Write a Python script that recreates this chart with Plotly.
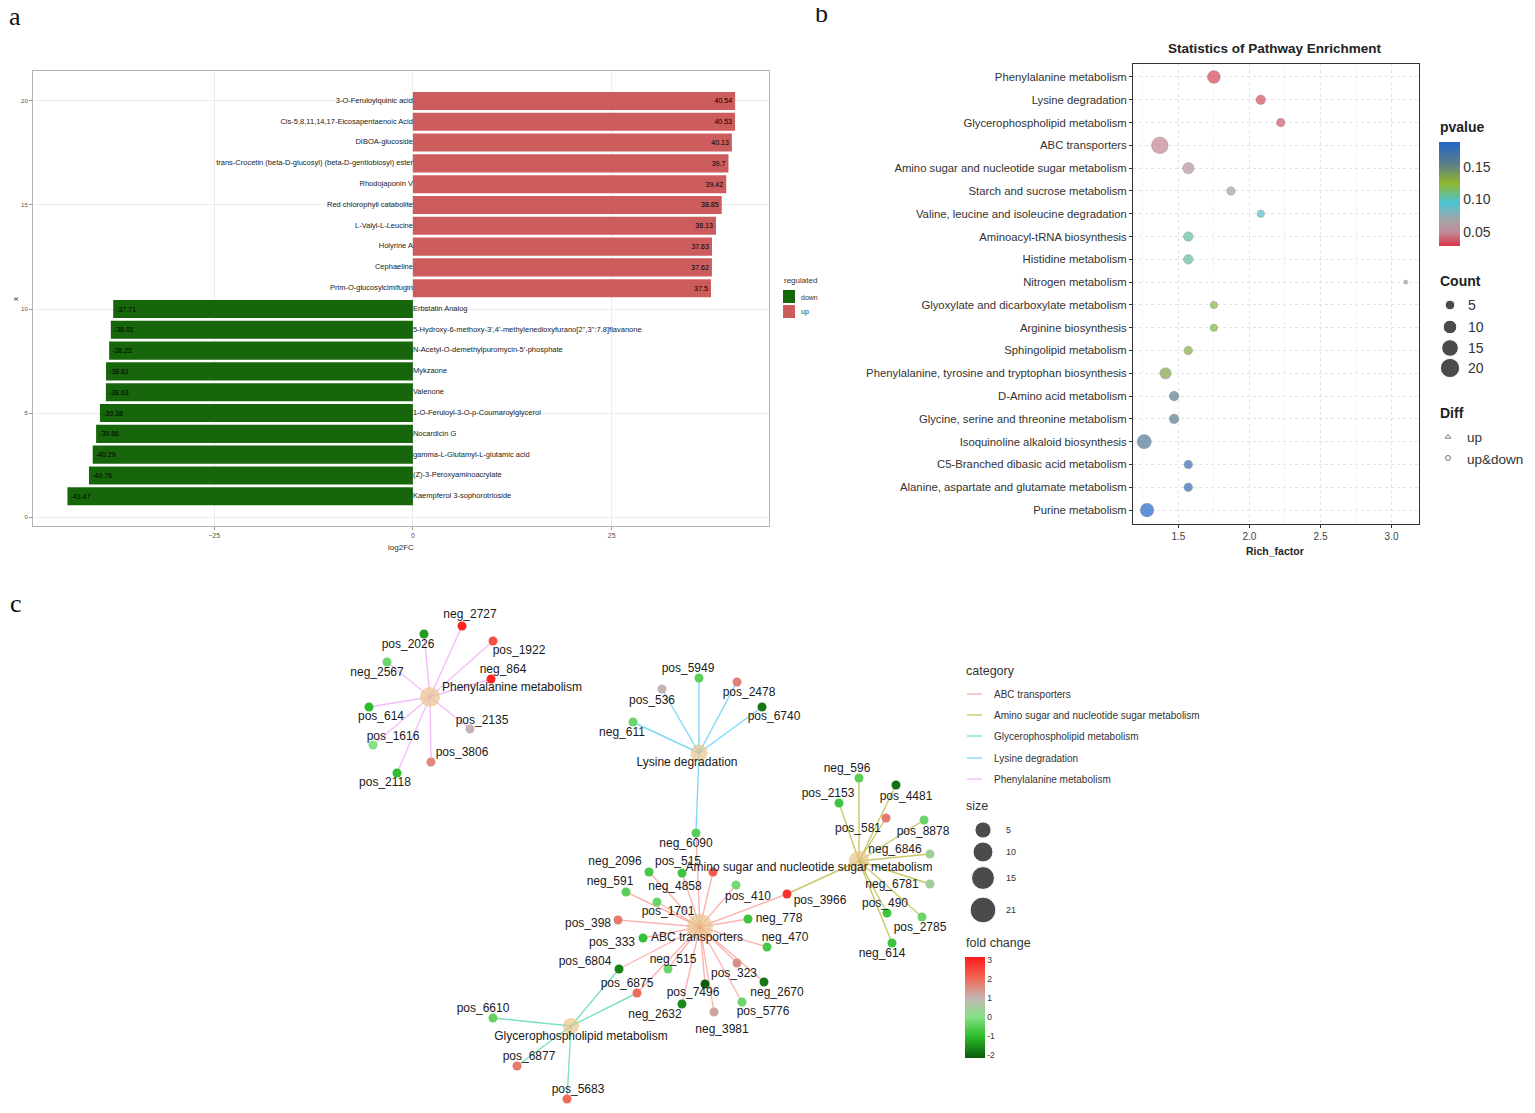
import math
import plotly.graph_objects as go

W, H = 1535, 1113          # browser window (reference picture) size
OFF = 8                     # page body margin of the html page
FW, FH = W - 2 * OFF, H - 2 * OFF   # figure size
FONT = "Liberation Sans, Arial, sans-serif"

# ======================= panel a : data =======================
a_names = [
    "3-O-Feruloylquinic acid",
    "Cis-5,8,11,14,17-Eicosapentaenoic Acid",
    "DIBOA-glucoside",
    "trans-Crocetin (beta-D-glucosyl) (beta-D-gentiobiosyl) ester",
    "Rhodojaponin V",
    "Red chlorophyll catabolite",
    "L-Valyl-L-Leucine",
    "Holyrine A",
    "Cephaeline",
    "Prim-O-glucosylcimifugin",
    "Erbstatin Analog",
    "5-Hydroxy-6-methoxy-3',4'-methylenedioxyfurano[2'',3'':7,8]flavanone",
    "N-Acetyl-O-demethylpuromycin-5'-phosphate",
    "Mykzaone",
    "Valenone",
    "1-O-Feruloyl-3-O-p-Coumaroylglycerol",
    "Nocardicin G",
    "gamma-L-Glutamyl-L-glutamic acid",
    "(Z)-3-Peroxyaminoacrylate",
    "Kaempferol 3-sophorotrioside",
]
a_log2fc = [40.54, 40.53, 40.13, 39.7, 39.42, 38.85, 38.13, 37.63, 37.62, 37.5,
            -37.71, -38.01, -38.22, -38.61, -38.63, -39.38, -39.86, -40.29, -40.76, -43.47]
a_regulated = ["up"] * 10 + ["down"] * 10
a_xticks = [-25, 0, 25]
a_yticks = [0, 5, 10, 15, 20]

# ======================= panel b : data =======================
b_pathways = [
    "Phenylalanine metabolism",
    "Lysine degradation",
    "Glycerophospholipid metabolism",
    "ABC transporters",
    "Amino sugar and nucleotide sugar metabolism",
    "Starch and sucrose metabolism",
    "Valine, leucine and isoleucine degradation",
    "Aminoacyl-tRNA biosynthesis",
    "Histidine metabolism",
    "Nitrogen metabolism",
    "Glyoxylate and dicarboxylate metabolism",
    "Arginine biosynthesis",
    "Sphingolipid metabolism",
    "Phenylalanine, tyrosine and tryptophan biosynthesis",
    "D-Amino acid metabolism",
    "Glycine, serine and threonine metabolism",
    "Isoquinoline alkaloid biosynthesis",
    "C5-Branched dibasic acid metabolism",
    "Alanine, aspartate and glutamate metabolism",
    "Purine metabolism",
]
b_rich_factor = [1.75, 2.08, 2.22, 1.37, 1.57, 1.87, 2.08, 1.57, 1.57, 3.10,
                 1.75, 1.75, 1.57, 1.41, 1.47, 1.47, 1.26, 1.57, 1.57, 1.28]
b_pvalue = [0.032, 0.035, 0.037, 0.048, 0.055, 0.068, 0.092, 0.105, 0.105, 0.07,
            0.12, 0.12, 0.13, 0.135, 0.155, 0.155, 0.162, 0.178, 0.178, 0.188]
b_count = [9, 5, 4, 15, 7, 4, 3, 5, 5, 1, 3, 3, 4, 7, 5, 5, 11, 4, 4, 10]
b_xticks = [1.5, 2.0, 2.5, 3.0]
b_count_legend = [5, 10, 15, 20]
b_pvalue_ticks = [0.05, 0.10, 0.15]

# ======================= panel c : data =======================
c_categories = ["ABC transporters", "Amino sugar and nucleotide sugar metabolism",
                "Glycerophospholipid metabolism", "Lysine degradation", "Phenylalanine metabolism"]
c_leaf_names = [
    "neg_2727", "pos_1922", "neg_864", "pos_2026", "neg_2567", "pos_614", "pos_1616", "pos_2118", "pos_3806", "pos_2135",
    "pos_5949", "pos_536", "pos_2478", "pos_6740", "neg_611", "neg_6090",
    "neg_596", "pos_4481", "pos_2153", "pos_581", "pos_8878", "neg_6846", "neg_6781", "pos_490", "pos_2785", "neg_614", "pos_3966",
    "neg_2096", "neg_4858", "pos_515", "neg_591", "pos_1701", "pos_410", "pos_398", "neg_778", "pos_333", "neg_470",
    "pos_6804", "neg_515", "pos_6875", "pos_323", "neg_2670", "pos_7496", "neg_2632", "pos_5776", "neg_3981",
    "pos_6610", "pos_6877", "pos_5683",
]
c_leaf_fc = [
    3.0, 2.4, 3.0, -1.4, -0.3, -1.0, 0.0, -1.0, 1.6, 1.0,
    -0.5, 1.0, 1.7, -1.8, -0.3, -0.5,
    -0.5, -1.9, -0.8, 1.8, -0.3, 0.4, 0.4, -0.8, -0.3, -0.8, 2.8,
    -0.7, -0.8, 2.2, -0.5, -0.3, -0.2, 1.8, -0.8, -0.9, -0.7,
    -1.7, -0.3, 2.0, 1.5, -1.8, -2.1, -1.6, -0.3, 1.2,
    -0.4, 1.8, 2.0,
]
c_members_abc = ["neg_6090", "pos_3966", "neg_2096", "neg_4858", "pos_515", "neg_591", "pos_1701", "pos_410",
                 "pos_398", "neg_778", "pos_333", "neg_470", "pos_6804", "neg_515", "pos_6875", "pos_323",
                 "neg_2670", "pos_7496", "neg_2632", "pos_5776", "neg_3981"]
c_members_amino = ["neg_596", "pos_4481", "pos_2153", "pos_581", "pos_8878", "neg_6846", "neg_6781",
                   "pos_490", "pos_2785", "neg_614", "pos_3966"]
c_members_glycero = ["pos_6804", "pos_6875", "pos_6610", "pos_6877", "pos_5683"]
c_members_lysine = ["pos_5949", "pos_536", "pos_2478", "pos_6740", "neg_611", "neg_6090"]
c_members_phe = ["neg_2727", "pos_1922", "neg_864", "pos_2026", "neg_2567", "pos_614", "pos_1616",
                 "pos_2118", "pos_3806", "pos_2135"]
c_members = [c_members_abc, c_members_amino, c_members_glycero, c_members_lysine, c_members_phe]
c_size_legend = [5, 10, 15, 21]
c_fc_ticks = [-2, -1, 0, 1, 2, 3]

# ---- network layout (window pixel coordinates of the drawn layout) ----
hub_x = [700, 859, 571, 699, 430]
hub_y = [927, 861, 1026, 753, 697]
hub_lab_x = [697, 809, 581, 687, 512]
hub_lab_y = [938, 868, 1037, 763, 688]
leaf_x = [462, 493, 491, 424, 387, 369, 373, 397, 431, 470,
          699, 662, 737, 762, 633, 696,
          859, 896, 839, 886, 924, 930, 930, 887, 922, 892, 787,
          649, 682, 713, 626, 657, 736, 618, 748, 643, 767,
          619, 668, 637, 737, 764, 705, 682, 742, 714,
          493, 517, 567]
leaf_y = [626, 641, 679, 634, 662, 707, 745, 773, 762, 729,
          678, 689, 682, 707, 722, 833,
          778, 785, 803, 818, 820, 854, 884, 913, 917, 943, 894,
          872, 873, 872, 892, 902, 885, 920, 919, 938, 947,
          969, 969, 993, 963, 982, 984, 1004, 1002, 1012,
          1018, 1066, 1099]
lab_x = [470, 519, 503, 408, 377, 381, 393, 385, 462, 482,
         688, 652, 749, 774, 622, 686,
         847, 906, 828, 858, 923, 895, 892, 885, 920, 882, 820,
         615, 675, 678, 610, 668, 748, 588, 779, 612, 785,
         585, 673, 627, 734, 777, 693, 655, 763, 722,
         483, 529, 578]
lab_y = [615, 651, 670, 645, 673, 717, 737, 783, 753, 721,
         669, 701, 693, 717, 733, 844,
         769, 797, 794, 829, 832, 850, 885, 904, 928, 954, 901,
         862, 887, 862, 882, 912, 897, 924, 919, 943, 938,
         962, 960, 984, 974, 993, 993, 1015, 1012, 1030,
         1009, 1057, 1090]


def px(x):
    return (x - OFF) / FW


def py(y):
    return 1 - (y - OFF) / FH


def count_size(c):
    return 4.3 * math.sqrt(c)


def hub_size(n):
    return 7 + 4.1 * math.sqrt(n)


def fmt(v):
    return f"{v:.2f}".rstrip("0").rstrip(".")


fig = go.Figure()

# ======================= panel a : bars =======================
ypos = [len(a_names) - i for i in range(len(a_names))]
a_colors = {"up": "#cd5c5c", "down": "#17660c"}
for reg in ["down", "up"]:
    idx = [i for i, r in enumerate(a_regulated) if r == reg]
    fig.add_trace(go.Bar(
        orientation="h", x=[a_log2fc[i] for i in idx], y=[ypos[i] for i in idx],
        width=0.87, marker=dict(color=a_colors[reg], line=dict(width=0)),
        text=[fmt(a_log2fc[i]) for i in idx], textposition="inside", insidetextanchor="end",
        textangle=0, insidetextfont=dict(size=7, color="black", family=FONT),
        xaxis="x", yaxis="y", hoverinfo="skip", showlegend=False))
    fig.add_trace(go.Scatter(
        x=[0] * len(idx), y=[ypos[i] for i in idx], mode="text",
        text=[a_names[i] for i in idx],
        textposition="middle left" if reg == "up" else "middle right",
        textfont=dict(size=7.5, color="#222", family=FONT),
        xaxis="x", yaxis="y", hoverinfo="skip", showlegend=False, cliponaxis=False))

# ======================= panel b : dots =======================
fig.add_trace(go.Scatter(
    x=b_rich_factor, y=b_pathways, mode="markers",
    marker=dict(size=[count_size(c) for c in b_count], color=b_pvalue, coloraxis="coloraxis",
                line=dict(width=0.7, color="rgba(70,70,70,0.45)")),
    xaxis="x2", yaxis="y2", hoverinfo="skip", showlegend=False, cliponaxis=False))

# ======================= panel c : network =======================
edge_colors = ["rgba(248,118,109,0.55)", "rgba(163,165,0,0.6)", "rgba(0,191,125,0.5)",
               "rgba(0,176,246,0.5)", "rgba(231,107,243,0.45)"]
for h, members in enumerate(c_members):
    ex, ey = [], []
    for m in members:
        k = c_leaf_names.index(m)
        ex += [hub_x[h], leaf_x[k], None]
        ey += [hub_y[h], leaf_y[k], None]
    fig.add_trace(go.Scatter(x=ex, y=ey, mode="lines", line=dict(color=edge_colors[h], width=1.4),
                             xaxis="x3", yaxis="y3", hoverinfo="skip", showlegend=False))

fig.add_trace(go.Scatter(
    x=leaf_x, y=leaf_y, mode="markers",
    marker=dict(size=9, color=c_leaf_fc, coloraxis="coloraxis2", line=dict(width=0)),
    xaxis="x3", yaxis="y3", hoverinfo="skip", showlegend=False))
fig.add_trace(go.Scatter(
    x=hub_x, y=hub_y, mode="markers",
    marker=dict(size=[hub_size(len(m)) for m in c_members], color="#e8c48c", line=dict(width=0)),
    xaxis="x3", yaxis="y3", hoverinfo="skip", showlegend=False))
fig.add_trace(go.Scatter(
    x=lab_x + hub_lab_x, y=lab_y + hub_lab_y, mode="text", text=c_leaf_names + c_categories,
    textposition="middle center", textfont=dict(size=12, color="#1a1a1a", family=FONT),
    xaxis="x3", yaxis="y3", hoverinfo="skip", showlegend=False))

# ----- legends drawn in pixel overlay -----
fig.add_trace(go.Scatter(
    x=[1450] * 4, y=[305, 327, 348, 368], mode="markers",
    marker=dict(size=[count_size(c) for c in b_count_legend], color="black"),
    xaxis="x3", yaxis="y3", hoverinfo="skip", showlegend=False))
fig.add_trace(go.Scatter(
    x=[1448, 1448], y=[437, 458], mode="markers",
    marker=dict(size=5, color="#777", symbol=["triangle-up-open", "circle-open"], line=dict(width=1, color="#777")),
    xaxis="x3", yaxis="y3", hoverinfo="skip", showlegend=False))
fig.add_trace(go.Scatter(
    x=[983] * 4, y=[830, 852, 878, 910], mode="markers",
    marker=dict(size=[hub_size(n) for n in c_size_legend], color="black"),
    xaxis="x3", yaxis="y3", hoverinfo="skip", showlegend=False))
cat_y = [694, 715, 736, 758, 779]
for h in range(len(c_categories)):
    fig.add_trace(go.Scatter(
        x=[967, 982], y=[cat_y[h], cat_y[h]], mode="lines",
        line=dict(color=edge_colors[h], width=1.4),
        xaxis="x3", yaxis="y3", hoverinfo="skip", showlegend=False))


def ann(text, x, y, size, color="#222", xanchor="left", bold=False, family=FONT, textangle=0):
    return dict(text=f"<b>{text}</b>" if bold else text, x=x, y=y, xref="x3", yref="y3",
                xanchor=xanchor, yanchor="middle", showarrow=False, textangle=textangle,
                font=dict(size=size, color=color, family=family))


SERIF = "Liberation Serif, Times New Roman, serif"
annotations = [
    ann("a", 15, 16, 26, "#111", "center", family=SERIF),
    ann("b", 821, 13, 26, "#111", "center", family=SERIF),
    ann("c", 16, 603, 26, "#111", "center", family=SERIF),
    # panel a
    ann("log2FC", 401, 547, 8, "#333", "center"),
    ann("x", 15, 299, 8, "#333", "center", textangle=-90),
    ann("regulated", 782, 280, 8, "#333"),
    ann("down", 799, 297, 7, "#333"),
    ann("up", 799, 312, 7, "#333"),
    # panel b
    ann("Statistics of Pathway Enrichment", 1275, 48, 13.5, "#222", "center", bold=True),
    ann("Rich_factor", 1275, 551, 10.5, "#222", "center", bold=True),
    ann("pvalue", 1438, 127, 14, "#222", bold=True),
    ann("Count", 1438, 281, 14, "#222", bold=True),
    ann("Diff", 1438, 413, 14, "#222", bold=True),
    ann("up", 1465, 437, 13.5, "#333"),
    ann("up&down", 1465, 459, 13.5, "#333"),
    # panel c
    ann("category", 964, 671, 12.5, "#333"),
    ann("size", 964, 806, 12.5, "#333"),
    ann("fold change", 964, 943, 12.5, "#333"),
]
for c, yy in zip(b_count_legend, [305, 327, 348, 368]):
    annotations.append(ann(str(c), 1466, yy, 14, "#333"))
for n, yy in zip(c_size_legend, [830, 852, 878, 910]):
    annotations.append(ann(str(n), 1004, yy, 9, "#333"))
for h, cat in enumerate(c_categories):
    annotations.append(ann(cat, 992, cat_y[h], 10, "#333"))

shapes = [
    dict(type="rect", xref="x3", yref="y3", x0=783, x1=795, y0=290, y1=303,
         fillcolor=a_colors["down"], line=dict(width=0)),
    dict(type="rect", xref="x3", yref="y3", x0=783, x1=795, y0=305, y1=318,
         fillcolor=a_colors["up"], line=dict(width=0)),
]

pval_scale = [[0, "#d9364a"], [0.134, "#bf8c98"], [0.26, "#a0a6aa"], [0.416, "#4cc3d3"],
              [0.603, "#8fb62c"], [0.79, "#5b7d89"], [1, "#2266c8"]]
fc_scale = [[0, "#0b5a0b"], [0.217, "#2cbd2c"], [0.406, "#86e086"], [0.594, "#c4b4b4"],
            [0.783, "#f06a5a"], [1, "#ff1a1a"]]

fig.update_layout(
    width=FW, height=FH, margin=dict(l=0, r=0, t=0, b=0),
    paper_bgcolor="white", plot_bgcolor="rgba(0,0,0,0)",
    font=dict(family=FONT, color="#333"),
    barmode="relative", showlegend=False,
    annotations=annotations, shapes=shapes,
    xaxis=dict(domain=[px(33), px(769)], range=[-47.8, 44.8], anchor="y",
               tickvals=a_xticks, ticks="outside", ticklen=3, tickcolor="#999",
               tickfont=dict(size=7, color="#555"), showgrid=True, gridcolor="#ececec",
               zeroline=False, showline=True, mirror=True, linecolor="#b5b5b5", linewidth=1),
    yaxis=dict(domain=[py(526), py(71)], range=[-0.43, 21.44], anchor="x",
               tickvals=a_yticks, ticks="outside", ticklen=3, tickcolor="#999",
               tickfont=dict(size=6, color="#555"), showgrid=True, gridcolor="#ececec",
               zeroline=False, showline=True, mirror=True, linecolor="#b5b5b5", linewidth=1),
    xaxis2=dict(domain=[px(1133), px(1419)], range=[1.181, 3.193], anchor="y2",
                tickvals=b_xticks, ticktext=[f"{t:.1f}" for t in b_xticks],
                ticks="outside", ticklen=3, tickcolor="#333",
                tickfont=dict(size=10, color="#444"), showgrid=True, gridcolor="#e3e3e3", griddash="dot",
                minor=dict(tickvals=[1.25, 1.75, 2.25, 2.75], showgrid=True, gridcolor="#f0f0f0", griddash="dot"),
                zeroline=False, showline=True, mirror=True, linecolor="#333", linewidth=1),
    yaxis2=dict(domain=[py(524), py(64)], type="category", categoryorder="array",
                categoryarray=b_pathways, range=[19.61, -0.57], anchor="x2",
                ticks="outside", ticklen=3, tickcolor="#333",
                tickfont=dict(size=11.3, color="#333"), showgrid=True, gridcolor="#e3e3e3", griddash="dot",
                zeroline=False, showline=True, mirror=True, linecolor="#333", linewidth=1),
    xaxis3=dict(domain=[0, 1], range=[OFF, W - OFF], anchor="y3", visible=False, fixedrange=True),
    yaxis3=dict(domain=[0, 1], range=[H - OFF, OFF], anchor="x3", visible=False, fixedrange=True),
    coloraxis=dict(cmin=0.0285, cmax=0.1885, colorscale=pval_scale,
                   colorbar=dict(x=px(1439), xanchor="left", y=py(142), yanchor="top",
                                 len=104, lenmode="pixels", thickness=21, thicknessmode="pixels",
                                 xpad=0, ypad=0, outlinewidth=0, ticks="",
                                 tickvals=b_pvalue_ticks, ticktext=[f"{t:.2f}" for t in b_pvalue_ticks],
                                 tickfont=dict(size=14, color="#333"))),
    coloraxis2=dict(cmin=-2.15, cmax=3.15, colorscale=fc_scale,
                    colorbar=dict(x=px(965), xanchor="left", y=py(957), yanchor="top",
                                  len=101, lenmode="pixels", thickness=20, thicknessmode="pixels",
                                  xpad=0, ypad=0, outlinewidth=0, ticks="",
                                  tickvals=c_fc_ticks, ticktext=[str(t) for t in c_fc_ticks],
                                  tickfont=dict(size=8.5, color="#333"))),
)

fig.write_html("out.html", config={"displayModeBar": False})
